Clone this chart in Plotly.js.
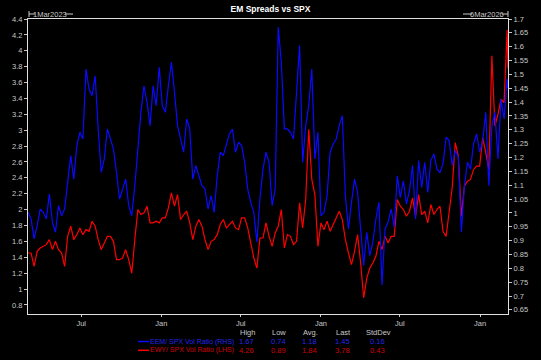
<!DOCTYPE html>
<html>
<head>
<meta charset="utf-8">
<script src="https://cdn.plot.ly/plotly-3.0.1.min.js"></script>
<style>html,body{margin:0;padding:0;background:#000;}#chart{width:541px;height:360px;}</style>
</head>
<body>
<div id="chart"></div>
<script>
// ---- data (weekly readings, start 1 Mar 2023, last point 6 Mar 2026) ----
const startDate = '2023-03-01';
const endDate = '2026-03-06';

const eemSpxVolRatio = [
  1.002,0.978,0.906,0.954,1.014,1.002,0.978,1.068,0.966,0.930,1.026,0.990,1.014,1.122,1.207,1.122,1.243,1.291,1.267,1.519,1.447,1.423,1.495,1.303,1.146,1.195,1.303,1.267,1.231,1.146,1.050,1.086,1.122,1.026,0.990,1.098,1.243,1.363,1.459,1.399,
  1.315,1.459,1.387,1.526,1.387,1.363,1.459,1.544,1.435,1.315,1.267,1.219,1.339,1.303,1.122,1.171,1.134,1.098,1.086,1.014,1.062,1.002,1.134,1.219,1.207,1.249,1.285,1.303,1.219,1.255,1.243,1.183,1.086,1.038,1.002,0.894,1.050,1.158,1.219,
  1.183,1.026,1.086,1.67,1.544,1.303,1.303,1.291,1.267,1.459,1.604,1.183,1.315,1.387,1.519,1.195,1.291,0.990,1.002,1.062,1.219,1.249,1.267,1.315,1.351,1.062,0.942,1.038,1.122,1.074,0.954,0.810,0.930,0.846,0.894,0.978,1.038,0.74,0.942,
  0.966,1.014,0.948,1.134,1.056,1.116,1.032,1.080,1.171,0.978,1.189,1.092,1.183,1.074,1.189,1.213,1.158,1.146,1.177,1.273,1.261,1.171,1.225,1.201,0.930,1.098,1.183,1.158,1.249,1.285,1.219,1.261,1.363,1.098,1.315,1.363,1.195,1.411,1.339,1.483,1.45
];

const ewySpxVolRatio = [
  1.454,1.454,1.286,1.475,1.517,1.538,1.559,1.622,1.496,1.601,1.496,1.454,1.286,1.664,1.791,1.622,1.685,1.770,1.685,1.748,1.727,1.854,1.791,1.622,1.496,1.580,1.664,1.664,1.601,1.370,1.370,1.391,1.496,1.370,1.201,1.622,2.001,1.938,1.959,2.043,
  1.833,1.833,1.854,1.833,1.896,1.896,2.022,2.211,2.043,2.190,1.875,1.938,1.980,1.833,1.622,1.791,1.875,1.791,1.622,1.496,1.601,1.622,1.685,1.812,1.875,1.770,1.812,1.854,1.770,1.748,1.896,1.896,1.770,1.559,1.391,1.264,1.643,1.643,1.833,
  1.664,1.538,1.706,1.791,2.001,1.517,1.685,1.664,1.559,1.601,2.085,1.770,2.127,3.011,2.380,2.190,1.538,1.833,1.748,1.854,1.727,1.812,1.917,1.980,1.875,1.622,1.454,1.307,1.475,1.685,1.328,0.89,1.138,1.264,1.328,1.412,1.601,1.496,1.664,
  1.580,1.664,1.664,2.127,2.043,2.001,1.917,1.980,2.148,1.917,2.190,1.938,1.980,1.833,2.064,1.938,2.001,2.043,1.727,1.664,2.001,2.275,2.843,2.674,1.917,2.296,2.359,2.380,2.506,2.548,2.548,2.906,2.717,2.506,3.937,3.053,3.201,3.390,3.348,4.26,3.78
];

const seriesNames = ['EEM/ SPX Vol Ratio (RHS)', 'EWY/ SPX Vol Ratio (LHS)'];
const statHeaders = ['High', 'Low', 'Avg.', 'Last', 'StdDev'];
const eemStats = ['1.67', '0.74', '1.18', '1.45', '0.16'];
const ewyStats = ['4.26', '0.89', '1.84', '3.78', '0.43'];

const xTickVals = ['2023-07-01','2024-01-01','2024-07-01','2025-01-01','2025-07-01','2026-01-01'];
const xTickText = ['Jul','Jan','Jul','Jan','Jul','Jan'];

// ---- build weekly dates ----
const dates = [];
const t0 = Date.parse(startDate + 'T00:00:00Z');
for (let i = 0; i < eemSpxVolRatio.length - 1; i++) {
  dates.push(new Date(t0 + i * 7 * 86400000).toISOString().slice(0, 10));
}
dates.push(endDate);

// ---- geometry helpers (pixel -> paper) ----
const L = 28, R = 508, T = 19, B = 314;
const px = x => (x - L) / (R - L);
const py = y => (B - y) / (B - T);

const BLUE = '#0a0aff', RED = '#ff0000';
const BLUE_TXT = '#2626e6', RED_TXT = '#d40000';
const GREY = '#c8c8c8';
const FONT = 'Liberation Sans, Arial, sans-serif';

const traces = [
  {x: dates, y: eemSpxVolRatio, yaxis: 'y2', type: 'scatter', mode: 'lines',
   line: {color: BLUE, width: 1.2}, name: seriesNames[0], hoverinfo: 'skip'},
  {x: dates, y: ewySpxVolRatio, yaxis: 'y', type: 'scatter', mode: 'lines',
   line: {color: RED, width: 1.2}, name: seriesNames[1], hoverinfo: 'skip'}
];

const annotations = [];
const shapes = [];

// top range markers
annotations.push({xref:'paper', yref:'paper', x: px(50), y: py(14), text: '1Mar2023', showarrow:false,
  font:{family:FONT, size:7.5, color:GREY}, xanchor:'center', yanchor:'middle'});
annotations.push({xref:'paper', yref:'paper', x: px(487), y: py(14), text: '6Mar2026', showarrow:false,
  font:{family:FONT, size:7.5, color:GREY}, xanchor:'center', yanchor:'middle'});
[[29,35],[65,73],[463,472],[502,508]].forEach(s => shapes.push({type:'line', xref:'paper', yref:'paper',
  x0: px(s[0]), x1: px(s[1]), y0: py(14), y1: py(14), line:{color:GREY, width:1}}));
[29,508].forEach(x => shapes.push({type:'line', xref:'paper', yref:'paper',
  x0: px(x), x1: px(x), y0: py(11), y1: py(17), line:{color:GREY, width:1}}));

// stats table legend
const colX = [247, 279, 310, 343, 378];
statHeaders.forEach((h, i) => annotations.push({xref:'paper', yref:'paper', x: px(colX[i]), y: py(332.5),
  text: h, showarrow:false, font:{family:FONT, size:7.5, color:GREY}, xanchor:'center', yanchor:'middle'}));
const rows = [{name: seriesNames[0], stats: eemStats, c: BLUE_TXT, lc: BLUE, y: 341.5},
              {name: seriesNames[1], stats: ewyStats, c: RED_TXT, lc: RED, y: 350.3}];
rows.forEach(r => {
  shapes.push({type:'line', xref:'paper', yref:'paper', x0: px(138), x1: px(149), y0: py(r.y), y1: py(r.y),
    line:{color: r.lc, width: 1.5}});
  annotations.push({xref:'paper', yref:'paper', x: px(236), y: py(r.y), text: r.name, showarrow:false,
    font:{family:FONT, size:7, color:r.c}, xanchor:'right', yanchor:'middle'});
  r.stats.forEach((s, i) => annotations.push({xref:'paper', yref:'paper', x: px(colX[i] - 1), y: py(r.y),
    text: s, showarrow:false, font:{family:FONT, size:7.5, color:r.c}, xanchor:'center', yanchor:'middle'}));
});

const layout = {
  width: 541, height: 360,
  paper_bgcolor: '#000', plot_bgcolor: '#000',
  margin: {l: L, r: 541 - R, t: T, b: 360 - B, pad: 0},
  showlegend: false,
  title: {text: '<b>EM Spreads vs SPX</b>', font: {family: FONT, size: 8.5, color: '#ffffff'},
          x: 0.5, xref: 'container', y: 1 - 9 / 360, yref: 'container', yanchor: 'middle'},
  xaxis: {type: 'date', range: [startDate, endDate], tickvals: xTickVals, ticktext: xTickText,
          ticks: 'outside', ticklen: 2, tickcolor: GREY, showgrid: false, zeroline: false,
          showline: true, linecolor: '#e0e0e0', linewidth: 1, mirror: true,
          tickfont: {family: FONT, size: 7.5, color: GREY}},
  yaxis: {range: [0.686, 4.4], tick0: 0.8, dtick: 0.2, ticks: 'outside', ticklen: 3, tickcolor: GREY,
          showgrid: false, zeroline: false, showline: true, linecolor: '#e0e0e0', linewidth: 1,
          tickfont: {family: FONT, size: 7.5, color: GREY}},
  yaxis2: {range: [0.635, 1.7], tick0: 0.7, dtick: 0.05, overlaying: 'y', side: 'right',
           ticks: 'outside', ticklen: 3, tickcolor: GREY, showgrid: false, zeroline: false,
           showline: true, linecolor: '#e0e0e0', linewidth: 1,
           tickfont: {family: FONT, size: 7.5, color: GREY}},
  annotations: annotations,
  shapes: shapes
};

Plotly.newPlot('chart', traces, layout, {staticPlot: true, displayModeBar: false});
</script>
</body>
</html>
